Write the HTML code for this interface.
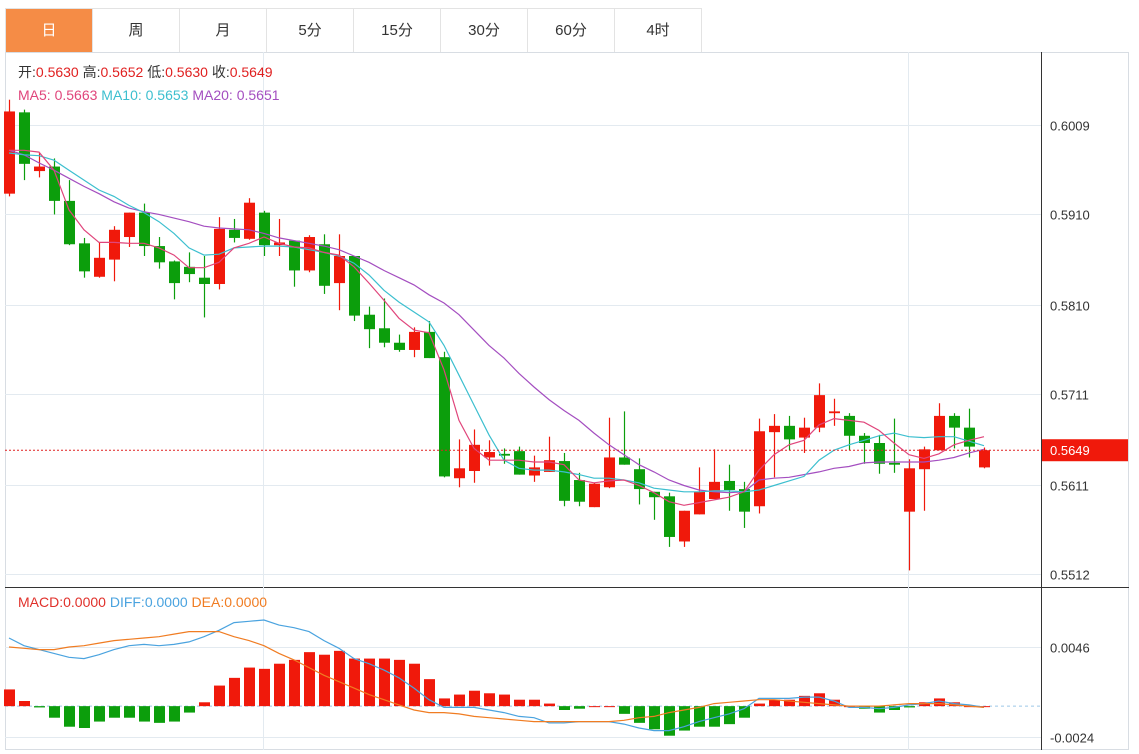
<!DOCTYPE html>
<html><head><meta charset="utf-8">
<style>
body{margin:0;background:#fff;font-family:"Liberation Sans","Noto Sans CJK SC",sans-serif;}
#wrap{position:relative;width:1139px;height:754px;overflow:hidden;background:#fff;}
.tabs{position:absolute;left:5px;top:8px;height:43px;display:flex;border:1px solid #e3e3e3;border-right:none;}
.tab{width:87px;height:43px;line-height:43px;text-align:center;font-size:15px;color:#333;border-right:1px solid #e3e3e3;box-sizing:border-box;}
.tab.active{background:#f58c46;color:#fff;}
svg{position:absolute;left:0;top:0;}
</style></head><body>
<div id="wrap">
<div class="tabs">
<div class="tab active">日</div>
<div class="tab">周</div>
<div class="tab">月</div>
<div class="tab">5分</div>
<div class="tab">15分</div>
<div class="tab">30分</div>
<div class="tab">60分</div>
<div class="tab">4时</div>
</div>
<svg id="chart" width="1139" height="754"></svg>
</div>
<script>
const opens=[0.5933,0.6023,0.5958,0.5963,0.5925,0.5878,0.5841,0.5860,0.5885,0.5912,0.5875,0.5858,0.5852,0.5840,0.5833,0.5893,0.5883,0.5912,0.5876,0.5881,0.5848,0.5877,0.5834,0.5864,0.5799,0.5784,0.5768,0.5760,0.5780,0.5752,0.5618,0.5626,0.5641,0.5645,0.5648,0.5621,0.5625,0.5637,0.5616,0.5586,0.5608,0.5641,0.5628,0.5603,0.5598,0.5548,0.5578,0.5595,0.5615,0.5606,0.5587,0.5669,0.5676,0.5663,0.5674,0.5690,0.5687,0.5665,0.5657,0.5635,0.5581,0.5628,0.5649,0.5687,0.5674,0.5630];
const highs=[0.6037,0.6026,0.5978,0.5972,0.5948,0.5884,0.5879,0.5897,0.5912,0.5922,0.5885,0.5859,0.5868,0.5864,0.5907,0.5905,0.5928,0.5914,0.5905,0.5881,0.5887,0.5888,0.5888,0.5864,0.5808,0.5817,0.5777,0.5785,0.5792,0.5758,0.5661,0.5672,0.5660,0.5651,0.5653,0.5643,0.5664,0.5646,0.5624,0.5613,0.5685,0.5692,0.5640,0.5603,0.5602,0.5582,0.5630,0.5650,0.5633,0.5614,0.5684,0.5689,0.5687,0.5685,0.5723,0.5706,0.5690,0.5668,0.5666,0.5684,0.5639,0.5653,0.5701,0.5690,0.5695,0.5652];
const lows=[0.5930,0.5948,0.5951,0.5910,0.5876,0.5840,0.5840,0.5836,0.5874,0.5864,0.5850,0.5816,0.5835,0.5796,0.5827,0.5879,0.5882,0.5864,0.5864,0.5830,0.5846,0.5822,0.5804,0.5792,0.5762,0.5763,0.5758,0.5752,0.5751,0.5619,0.5608,0.5613,0.5632,0.5634,0.5622,0.5614,0.5625,0.5587,0.5587,0.5586,0.5607,0.5633,0.5589,0.5572,0.5542,0.5542,0.5578,0.5595,0.5582,0.5563,0.5579,0.5619,0.5649,0.5646,0.5669,0.5676,0.5649,0.5634,0.5623,0.5624,0.5516,0.5582,0.5649,0.5651,0.5641,0.5629];
const closes=[0.6024,0.5966,0.5963,0.5925,0.5877,0.5847,0.5862,0.5893,0.5912,0.5875,0.5857,0.5834,0.5844,0.5833,0.5894,0.5884,0.5923,0.5876,0.5879,0.5848,0.5885,0.5831,0.5864,0.5798,0.5783,0.5768,0.5760,0.5780,0.5751,0.5620,0.5629,0.5655,0.5647,0.5643,0.5622,0.5630,0.5638,0.5593,0.5592,0.5612,0.5641,0.5633,0.5606,0.5597,0.5553,0.5582,0.5603,0.5614,0.5605,0.5581,0.5670,0.5676,0.5661,0.5674,0.5710,0.5692,0.5665,0.5657,0.5634,0.5633,0.5629,0.5650,0.5687,0.5674,0.5653,0.5649];
const ma5=[0.5981,0.5981,0.5979,0.5959,0.5915,0.5893,0.5879,0.5879,0.5878,0.5878,0.5873,0.5865,0.5851,0.5851,0.5857,0.5873,0.5878,0.5885,0.5878,0.5874,0.5873,0.5868,0.5865,0.5852,0.5834,0.5815,0.5795,0.5782,0.5779,0.5738,0.5682,0.5651,0.5638,0.5638,0.5638,0.5636,0.5636,0.5633,0.5616,0.5613,0.5615,0.5616,0.5610,0.5602,0.5592,0.5588,0.5591,0.5594,0.5597,0.5603,0.5627,0.5644,0.5655,0.5660,0.5677,0.5684,0.5682,0.5680,0.5671,0.5657,0.5644,0.5640,0.5645,0.5655,0.5660,0.5664];
const ma10=[0.5978,0.5976,0.5975,0.5970,0.5959,0.5948,0.5937,0.5930,0.5920,0.5912,0.5902,0.5889,0.5873,0.5865,0.5866,0.5873,0.5874,0.5875,0.5875,0.5874,0.5871,0.5868,0.5864,0.5856,0.5843,0.5826,0.5813,0.5802,0.5791,0.5765,0.5732,0.5699,0.5666,0.5638,0.5629,0.5627,0.5627,0.5625,0.5622,0.5618,0.5618,0.5616,0.5613,0.5607,0.5605,0.5603,0.5603,0.5604,0.5604,0.5603,0.5605,0.5610,0.5615,0.5620,0.5638,0.5649,0.5655,0.5660,0.5665,0.5668,0.5664,0.5663,0.5664,0.5664,0.5659,0.5654];
const ma20=[0.5981,0.5976,0.5967,0.5959,0.5950,0.5941,0.5933,0.5924,0.5917,0.5913,0.5910,0.5906,0.5902,0.5897,0.5895,0.5894,0.5893,0.5889,0.5884,0.5881,0.5878,0.5875,0.5871,0.5864,0.5857,0.5848,0.5840,0.5832,0.5821,0.5812,0.5799,0.5782,0.5765,0.5751,0.5734,0.5719,0.5705,0.5693,0.5682,0.5668,0.5655,0.5644,0.5633,0.5625,0.5616,0.5610,0.5605,0.5603,0.5602,0.5603,0.5616,0.5618,0.5619,0.5622,0.5625,0.5629,0.5631,0.5635,0.5636,0.5636,0.5636,0.5636,0.5638,0.5641,0.5646,0.5650];
const macdHist=[0.0013,0.0004,-0.0001,-0.0009,-0.0016,-0.0017,-0.0012,-0.0009,-0.0009,-0.0012,-0.0013,-0.0012,-0.0005,0.0003,0.0016,0.0022,0.0030,0.0029,0.0033,0.0036,0.0042,0.0040,0.0043,0.0037,0.0037,0.0037,0.0036,0.0033,0.0021,0.0006,0.0009,0.0012,0.0010,0.0009,0.0005,0.0005,0.0002,-0.0003,-0.0002,0.0000,0.0000,-0.0006,-0.0013,-0.0018,-0.0023,-0.0019,-0.0016,-0.0016,-0.0014,-0.0009,0.0002,0.0005,0.0005,0.0008,0.0010,0.0005,0.0000,-0.0002,-0.0005,-0.0003,-0.0001,0.0003,0.0006,0.0003,0.0000,0.0000];
const diff=[0.0053,0.0047,0.0044,0.0041,0.0038,0.0037,0.0040,0.0044,0.0047,0.0048,0.0047,0.0048,0.0050,0.0054,0.0059,0.0065,0.0066,0.0067,0.0063,0.0061,0.0058,0.0051,0.0045,0.0037,0.0033,0.0028,0.0022,0.0014,0.0005,-0.0001,-0.0001,-0.0001,-0.0003,-0.0005,-0.0008,-0.0009,-0.0013,-0.0013,-0.0012,-0.0012,-0.0012,-0.0014,-0.0017,-0.0019,-0.0019,-0.0016,-0.0012,-0.0009,-0.0006,-0.0002,0.0006,0.0006,0.0006,0.0007,0.0007,0.0004,-0.0001,-0.0001,-0.0002,-0.0001,0.0001,0.0002,0.0004,0.0002,0.0001,-0.0001];
const dea=[0.0046,0.0045,0.0044,0.0044,0.0046,0.0047,0.0049,0.0051,0.0052,0.0053,0.0054,0.0056,0.0058,0.0058,0.0058,0.0054,0.0051,0.0047,0.0041,0.0036,0.0030,0.0024,0.0019,0.0014,0.0009,0.0005,0.0001,-0.0003,-0.0005,-0.0005,-0.0006,-0.0008,-0.0009,-0.0010,-0.0011,-0.0012,-0.0012,-0.0012,-0.0012,-0.0012,-0.0012,-0.0011,-0.0009,-0.0008,-0.0005,-0.0003,-0.0001,0.0002,0.0003,0.0004,0.0005,0.0005,0.0004,0.0003,0.0002,0.0001,0.0000,0.0000,0.0000,0.0001,0.0002,0.0002,0.0002,0.0001,0.0000,-0.0001];
const priceTicks=[0.6009,0.5910,0.5810,0.5711,0.5611,0.5512];
const macdTicks=[0.0046,-0.0024];
const lastPrice=0.5649;

const NS='http://www.w3.org/2000/svg';
const svg=document.getElementById('chart');
const RED='#f0190b',GREEN='#0c9e0c';
function yP(p){return 125+(0.6009-p)*(449/0.0497);}
function yM(v){return 647+(0.0046-v)*(90/0.0070);}
function xI(i){return 9+15*i;}
function mk(tag,attrs,parent){const e=document.createElementNS(NS,tag);for(const k in attrs)e.setAttribute(k,attrs[k]);(parent||svg).appendChild(e);return e;}
function txt(x,y,s,fill,size,anchor){const t=mk('text',{x:x,y:y,fill:fill,'font-size':size||14,'text-anchor':anchor||'start','font-family':'Liberation Sans, Noto Sans CJK SC, sans-serif'});t.textContent=s;return t;}

// frames
let g=mk('rect',{x:5.5,y:52.5,width:1123,height:697,fill:'none',stroke:'#d8dde3'});


g=mk('line',{x1:1041.5,y1:52,x2:1041.5,y2:750,stroke:'#333','stroke-width':1});


g=mk('line',{x1:5,y1:587.5,x2:1129,y2:587.5,stroke:'#333'});


[263,908].forEach(x=>{const l=mk('line',{x1:x+0.5,y1:52,x2:x+0.5,y2:750,stroke:'#e3eaf0'});

});
priceTicks.forEach(p=>{const y=Math.round(yP(p))+0.5;
const l=mk('line',{x1:5,y1:y,x2:1041,y2:y,stroke:'#e3eaf0'});


const t=txt(1050,y+5,p.toFixed(4),'#333',13);

});
macdTicks.forEach(v=>{const y=Math.round(yM(v))+0.5;
const l=mk('line',{x1:5,y1:y,x2:1041,y2:y,stroke:'#e3eaf0'});


const t=txt(1050,y+5,v.toFixed(4),'#333',13);

});
g=mk('line',{x1:5,y1:yM(0),x2:1041,y2:yM(0),stroke:'#9cc8e8','stroke-dasharray':'3,3'});



// candles
for(let i=0;i<opens.length;i++){
 const up=closes[i]>=opens[i];const c=up?RED:GREEN;const x=xI(i);
 const gr=mk('g',{});
 
 
 mk('line',{x1:x+0.5,y1:yP(highs[i]),x2:x+0.5,y2:yP(lows[i]),stroke:c,'stroke-width':1.2},gr);
 const t=yP(Math.max(opens[i],closes[i])),b=yP(Math.min(opens[i],closes[i]));
 mk('rect',{x:x-5,y:t,width:11,height:Math.max(1.5,b-t),fill:c},gr);
}
// MA lines
function poly(arr,fy,color,name){const pts=arr.map((v,i)=>xI(i)+','+fy(v).toFixed(1)).join(' ');
 const p=mk('polyline',{points:pts,fill:'none',stroke:color,'stroke-width':1.2});
 
 }
poly(ma20,yP,'#a44ec0','ma20-line');
poly(ma10,yP,'#3cbfcf','ma10-line');
poly(ma5,yP,'#e0457b','ma5-line');

// last price
const ly=yP(lastPrice);
g=mk('line',{x1:5,y1:ly,x2:1041,y2:ly,stroke:'#e02020','stroke-dasharray':'2,2'});


g=mk('rect',{x:1042,y:ly-11,width:86,height:22,fill:'#f0190b'});


g=txt(1050,ly+5,lastPrice.toFixed(4),'#fff',13);



// MACD histogram
for(let i=0;i<macdHist.length;i++){const v=macdHist[i];const y0=yM(0),y1=yM(v);
 const r=mk('rect',{x:xI(i)-5,y:Math.min(y0,y1),width:11,height:Math.max(1,Math.abs(y1-y0)),fill:v>=0?RED:GREEN});
 
 }
poly(diff,yM,'#4aa3df','diff-line');
poly(dea,yM,'#f07c22','dea-line');

// legends
function legend(x,y,parts,name){const t=mk('text',{x:x,y:y,'font-size':14,'font-family':'Liberation Sans, Noto Sans CJK SC, sans-serif'});
 
 
 parts.forEach(([s,c])=>{const ts=mk('tspan',{fill:c},t);ts.textContent=s;});}
legend(18,77,[['开:','#333'],['0.5630','#e02020'],['   高:','#333'],['0.5652','#e02020'],['   低:','#333'],['0.5630','#e02020'],['   收:','#333'],['0.5649','#e02020']],'ohlc-legend');
legend(18,100,[['MA5: 0.5663','#e0457b'],['    MA10: 0.5653','#3cbfcf'],['    MA20: 0.5651','#a44ec0']],'ma-legend');
legend(18,607,[['MACD:0.0000','#e0302a'],['    DIFF:0.0000','#4aa3df'],['    DEA:0.0000','#f07c22']],'macd-legend');
</script>
</body></html>
